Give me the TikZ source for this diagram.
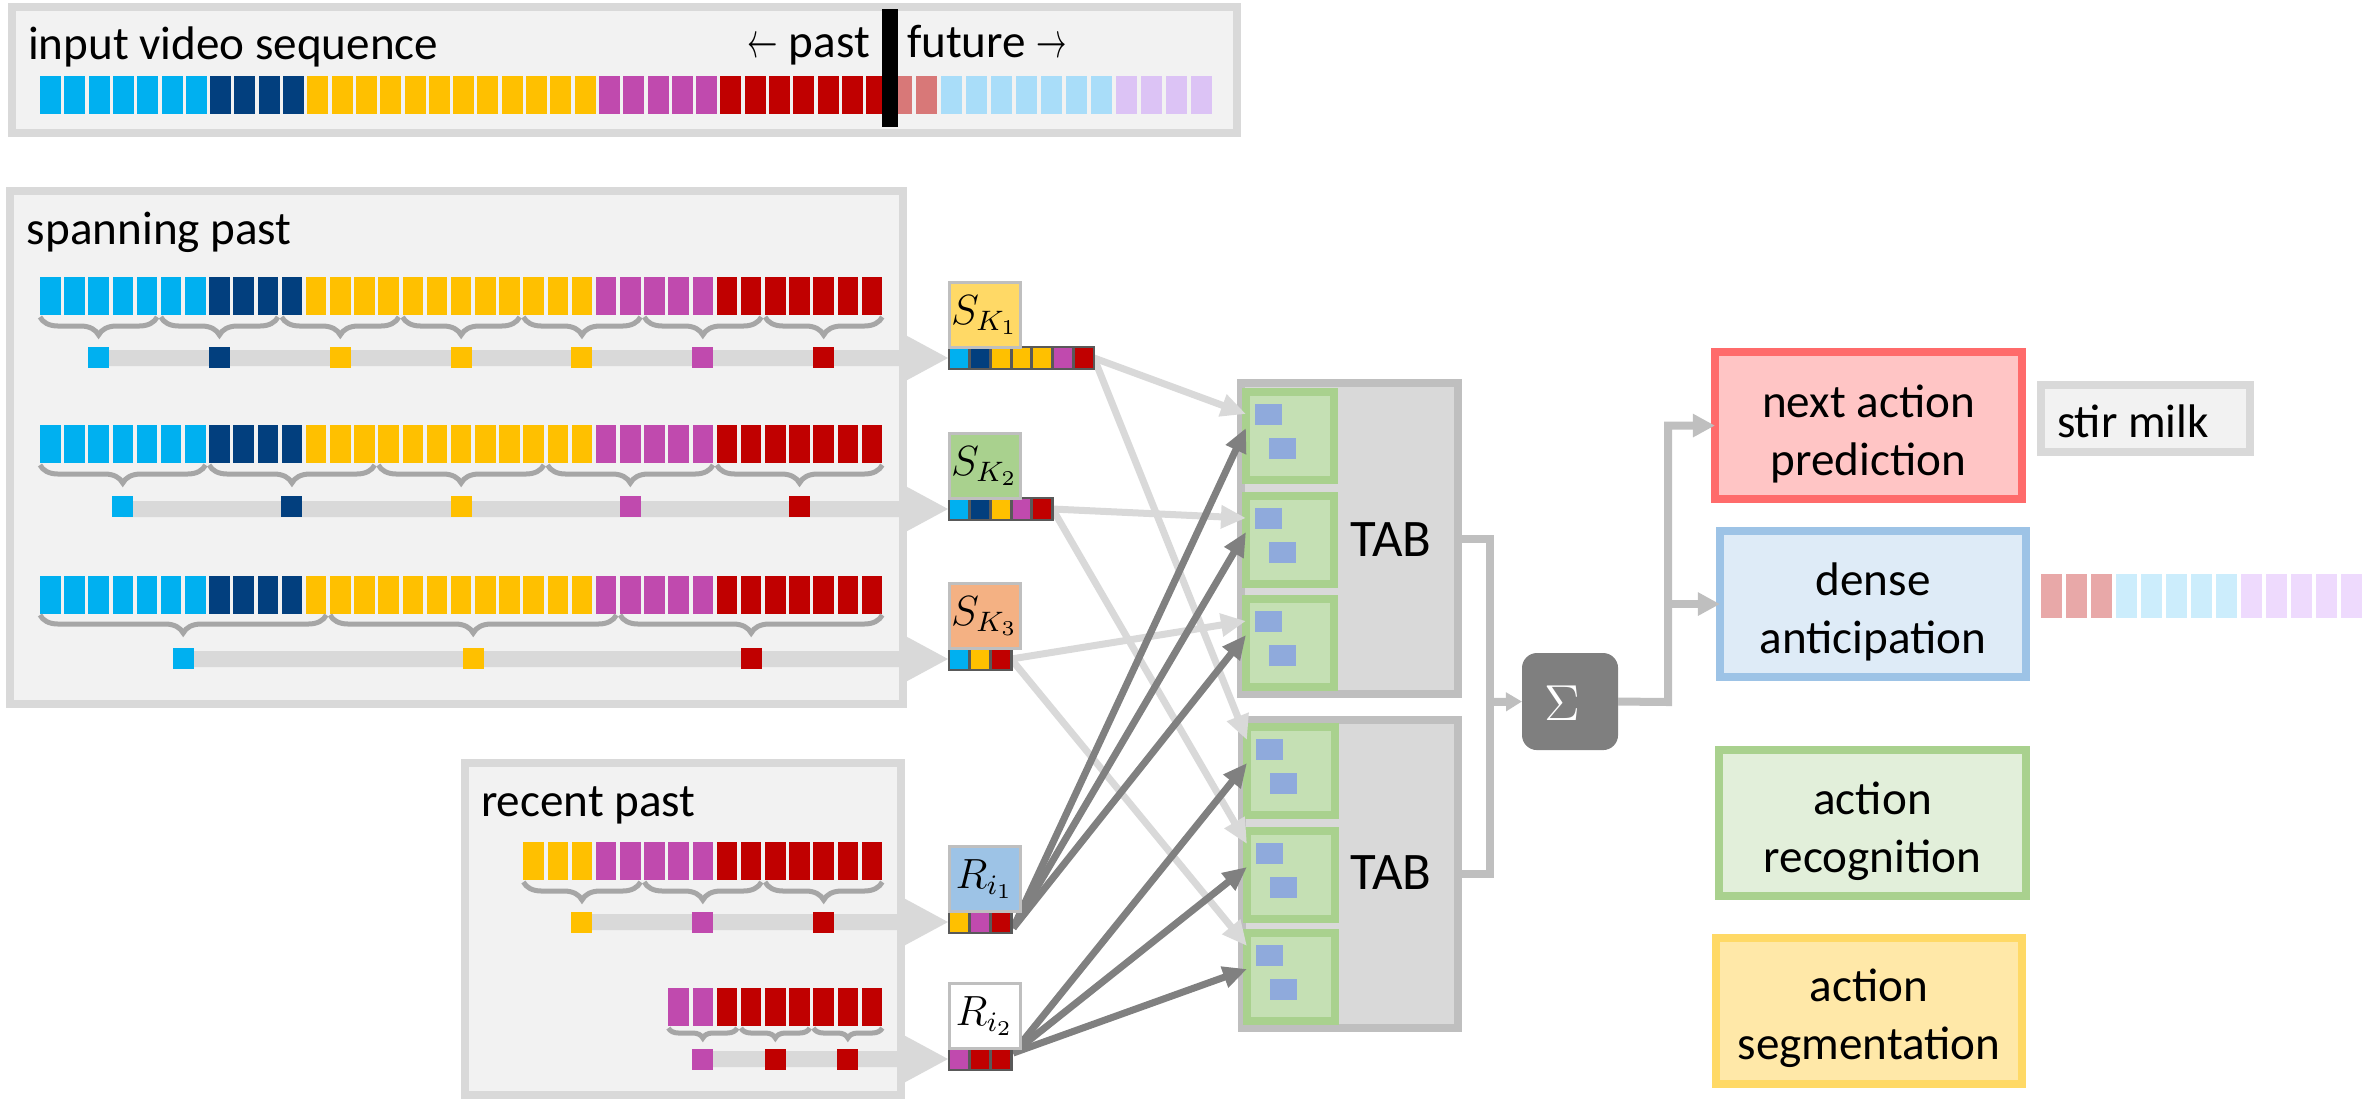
\documentclass[tikz,border=0pt]{standalone}
\usepackage{graphicx}
\usepackage{fontspec}
\setmainfont{Carlito}
\usetikzlibrary{arrows.meta,calc,decorations.pathreplacing}

% frame colours
\definecolor{clb}{HTML}{00B0F0}
\definecolor{cdb}{HTML}{023F7E}
\definecolor{cyl}{HTML}{FFC000}
\definecolor{cpu}{HTML}{C04AAE}
\definecolor{crd}{HTML}{C00000}
\definecolor{flr}{HTML}{D87878}
\definecolor{flb}{HTML}{A9DDF9}
\definecolor{flp}{HTML}{DCC3F5}
\definecolor{dlr}{HTML}{E8A8A8}
\definecolor{dlb}{HTML}{CCEDFC}
\definecolor{dlp}{HTML}{EEDAFD}
% boxes and links
\definecolor{panelline}{HTML}{D9D9D9}
\definecolor{panelfill}{HTML}{F2F2F2}
\definecolor{bracegray}{HTML}{A6A6A6}
\definecolor{tabline}{HTML}{BFBFBF}
\definecolor{tabfill}{HTML}{D9D9D9}
\definecolor{greenline}{HTML}{A9D18E}
\definecolor{greenfill}{HTML}{C5E0B4}
\definecolor{tokenblue}{HTML}{8FAADC}
\definecolor{darkarrow}{HTML}{808080}
\definecolor{lightarrow}{HTML}{D9D9D9}
\definecolor{joingray}{HTML}{BFBFBF}
\definecolor{sigmafill}{HTML}{7F7F7F}
\definecolor{skAfill}{HTML}{FFD966}
\definecolor{skBfill}{HTML}{A9D18E}
\definecolor{skCfill}{HTML}{F4B183}
\definecolor{riAfill}{HTML}{9DC3E6}
\definecolor{cellline}{HTML}{595959}
\definecolor{labelline}{HTML}{BFBFBF}
\definecolor{nextline}{HTML}{FF6B6B}
\definecolor{nextfill}{HTML}{FFC5C5}
\definecolor{denseline}{HTML}{9DC3E6}
\definecolor{densefill}{HTML}{DEEBF7}
\definecolor{recline}{HTML}{A9D18E}
\definecolor{recfill}{HTML}{E2EFDA}
\definecolor{segline}{HTML}{FFD966}
\definecolor{segfill}{HTML}{FFE8A8}

% colour sequences of the frames
\def\pastcols{clb,clb,clb,clb,clb,clb,clb,cdb,cdb,cdb,cdb,cyl,cyl,cyl,cyl,cyl,cyl,cyl,cyl,cyl,cyl,cyl,cyl,cpu,cpu,cpu,cpu,cpu,crd,crd,crd,crd,crd,crd,crd}
\def\futurecols{flr,flr,flb,flb,flb,flb,flb,flb,flb,flp,flp,flp,flp}
\def\recentAcols{cyl,cyl,cyl,cpu,cpu,cpu,cpu,cpu,crd,crd,crd,crd,crd,crd,crd}
\def\recentBcols{cpu,cpu,crd,crd,crd,crd,crd,crd,crd}
\def\densecols{dlr,dlr,dlr,dlb,dlb,dlb,dlb,dlb,dlp,dlp,dlp,dlp,dlp}
\def\skAcells{clb,cdb,cyl,cyl,cyl,cpu,crd}
\def\skBcells{clb,cdb,cyl,cpu,crd}
\def\skCcells{clb,cyl,crd}
\def\riAcells{cyl,cpu,crd}
\def\riBcells{cpu,crd,crd}

% short arrows for the past/future tags
\newcommand\shortleft{\scalebox{0.6}[1]{$\leftarrow$}}
\newcommand\shortright{\scalebox{0.6}[1]{$\rightarrow$}}

% a row of frames: x of first frame, top y, colour list
\newcommand\framecells[3]{%
  \foreach \c [count=\k from 0] in #3 {\fill[\c] ({#1+24.17*\k},#2) rectangle ++(20.5,38);}}
% a brace over frames #1..#2 at height #3 with amplitude #4
\newcommand\spanbrace[4]{%
  \draw[bracestyle, decoration={brace,mirror,amplitude=#4}] ({40+24.17*(#1)},#3) -- ({40+24.17*(#2)+20.5},#3);}
% a sampled frame centred under frame index #1
\newcommand\pickcell[3]{\fill[#3] ({40+24.17*(#1)-0.25},#2) rectangle ++(21,21);}
% the cells of a feature strip
\newcommand\stripcells[2]{%
  \foreach \c [count=\k from 0] in #2 {\draw[cellstyle, fill=\c] ($(#1.north west)+({20.7*\k},0)$) rectangle ++(20.7,22);}}

\begin{document}
\begin{tikzpicture}[x=0.01cm, y=-0.01cm,
  panel/.style={draw=panelline, fill=panelfill, line width=0.08cm, inner sep=0pt, outer sep=0pt, anchor=north west},
  maintext/.style={font=\fontsize{13.4}{16}\selectfont, inner sep=0pt, outer sep=0pt},
  outtext/.style={font=\fontsize{13.4}{16.5}\selectfont, inner sep=0pt, align=center},
  bracestyle/.style={draw=bracegray, line width=0.05cm, decorate},
  feedbar/.style={draw=panelline, line width=0.16cm, -{Triangle[length=0.45cm,width=0.44cm]}},
  stripnode/.style={anchor=north west, inner sep=0pt, outer sep=0pt, minimum height=0.22cm},
  cellstyle/.style={draw=cellline, line width=0.028cm},
  labelbox/.style={draw=labelline, line width=0.03cm, anchor=south west, inner sep=0pt, outer sep=0pt,
    minimum width=0.71cm, minimum height=0.64cm, font=\fontsize{12}{14}\selectfont},
  tabbox/.style={draw=tabline, fill=tabfill, line width=0.08cm, anchor=north west, inner sep=0pt, outer sep=0pt},
  greencell/.style={draw=greenline, fill=greenfill, line width=0.08cm, anchor=north west, inner sep=0pt, outer sep=0pt,
    minimum width=0.88cm, minimum height=0.88cm},
  tablabel/.style={font=\fontsize{15}{18}\selectfont, inner sep=0pt},
  lightlink/.style={draw=lightarrow, line width=0.07cm, -{Triangle[length=0.25cm,width=0.22cm]}},
  darklink/.style={draw=darkarrow, line width=0.07cm, -{Triangle[length=0.24cm,width=0.21cm]}},
  joinline/.style={draw=joingray, line width=0.08cm},
  sigmabox/.style={fill=sigmafill, rounded corners=0.15cm, anchor=north west, inner sep=0pt, outer sep=0pt,
    minimum width=0.96cm, minimum height=0.97cm},
  outbox/.style={line width=0.08cm, anchor=north west, inner sep=0pt, outer sep=0pt}
]
\useasboundingbox (0,0) rectangle (2374,1099);

% ---------- panels ----------
\node[panel, minimum width=12.24cm, minimum height=1.26cm] (inputpanel) at (12,7) {};
\node[panel, minimum width=8.92cm, minimum height=5.13cm] (spanpanel) at (10,191) {};
\node[panel, minimum width=4.36cm, minimum height=3.32cm] (recentpanel) at (465,763) {};
\node[panel, minimum width=2.09cm, minimum height=0.67cm] (stirpanel) at (2041,385) {};

% ---------- input video sequence ----------
\foreach \c [count=\k from 0] in \pastcols {\fill[\c] ({40+24.3*\k},76) rectangle ++(21,38);}
\foreach \c [count=\k from 0] in \futurecols {\fill[\c] ({891+25*\k},76) rectangle ++(21,38);}
\fill[black] (882,9) rectangle (898,127);
\node[maintext, anchor=base west] (inputtitle) at (28,59) {input video sequence};
\node[maintext, anchor=base east] (pasttag) at (870,57) {\shortleft\ past};
\node[maintext, anchor=base west] (futuretag) at (907,57) {future \shortright};

% ---------- spanning past ----------
\node[maintext, anchor=base west] (spantitle) at (27,244) {spanning past};
\framecells{40}{277}{\pastcols}
\framecells{40}{425}{\pastcols}
\framecells{40}{576}{\pastcols}
\foreach \a in {0,5,...,30} {\spanbrace{\a}{\a+4}{317}{0.18cm}}
\foreach \a in {0,7,...,28} {\spanbrace{\a}{\a+6}{465}{0.18cm}}
\spanbrace{0}{11}{615}{0.18cm}
\spanbrace{12}{23}{615}{0.18cm}
\spanbrace{24}{34}{615}{0.18cm}

% ---------- recent past ----------
\node[maintext, anchor=base west] (recenttitle) at (481,816) {recent past};
\framecells{523.4}{842}{\recentAcols}
\framecells{668.4}{988}{\recentBcols}
\spanbrace{20}{24}{882}{0.18cm}
\spanbrace{25}{29}{882}{0.18cm}
\spanbrace{30}{34}{882}{0.18cm}
\spanbrace{26}{28}{1028}{0.1cm}
\spanbrace{29}{31}{1028}{0.1cm}
\spanbrace{32}{34}{1028}{0.1cm}

% ---------- feature strips ----------
\node[stripnode, minimum width=1.449cm] (skAstrip) at (949,347) {};
\node[stripnode, minimum width=1.035cm] (skBstrip) at (949,498) {};
\node[stripnode, minimum width=0.621cm] (skCstrip) at (949,648) {};
\node[stripnode, minimum width=0.621cm] (riAstrip) at (949,911) {};
\node[stripnode, minimum width=0.621cm] (riBstrip) at (949,1048) {};

% sampling bars into the strips
\coordinate (spanAstart) at (98.6,358);
\coordinate (spanBstart) at (122.8,509);
\coordinate (spanCstart) at (183.2,659);
\coordinate (recentAstart) at (582,922);
\coordinate (recentBstart) at (702.8,1059);
\draw[feedbar] (spanAstart) -- (skAstrip.west);
\draw[feedbar] (spanBstart) -- (skBstrip.west);
\draw[feedbar] (spanCstart) -- (skCstrip.west);
\draw[feedbar] (recentAstart) -- (riAstrip.west);
\draw[feedbar] (recentBstart) -- (riBstrip.west);

% sampled frames
\foreach \c [count=\j from 0] in \skAcells {\pickcell{5*\j+2}{347}{\c}}
\foreach \c [count=\j from 0] in \skBcells {\pickcell{7*\j+3}{496}{\c}}
\pickcell{5.5}{648}{clb}
\pickcell{17.5}{648}{cyl}
\pickcell{29}{648}{crd}
\pickcell{22}{912}{cyl}
\pickcell{27}{912}{cpu}
\pickcell{32}{912}{crd}
\pickcell{27}{1049}{cpu}
\pickcell{30}{1049}{crd}
\pickcell{33}{1049}{crd}

% ---------- temporal aggregation blocks ----------
\node[tabbox, minimum width=2.17cm, minimum height=3.11cm] (tabU) at (1241,383) {};
\node[tabbox, minimum width=2.16cm, minimum height=3.08cm] (tabL) at (1242,720) {};
\node[greencell] (gU1) at (1246,392) {};
\node[greencell] (gU2) at (1246,496) {};
\node[greencell] (gU3) at (1246,599) {};
\node[greencell] (gL1) at (1247,727) {};
\node[greencell] (gL2) at (1247,831) {};
\node[greencell] (gL3) at (1247,933) {};
\foreach \g in {gU1,gU2,gU3,gL1,gL2,gL3} {
  \fill[tokenblue] ($(\g.north west)+(9,12)$) rectangle ++(27,21);
  \fill[tokenblue] ($(\g.north west)+(23,46)$) rectangle ++(27,21);
}
\node[tablabel] (tabUname) at (1391,540) {TAB};
\node[tablabel] (tabLname) at (1391,873) {TAB};

% ---------- links into the blocks ----------
\draw[lightlink] (skAstrip.east) -- ($(gU1.north west)+(0,22)$);
\draw[lightlink] (skBstrip.east) -- ($(gU2.north west)+(0,22)$);
\draw[lightlink] (skCstrip.east) -- ($(gU3.north west)+(0,22)$);
\draw[lightlink] (skAstrip.east) -- ($(gL1.north west)+(0,13)$);
\draw[lightlink] (skBstrip.east) -- ($(gL2.north west)+(0,13)$);
\draw[lightlink] (skCstrip.east) -- ($(gL3.north west)+(0,13)$);
\coordinate (riAout) at ($(riAstrip.east)+(2,6)$);
\coordinate (riBout) at ($(riBstrip.east)+(2,-6)$);
\foreach \g in {gU1,gU2,gU3} {\draw[darklink] (riAout) -- ($(\g.north west)+(0,36)$);}
\foreach \g in {gL1,gL2,gL3} {\draw[darklink] (riBout) -- ($(\g.north west)+(0,36)$);}

% strip cells sit on top of the link ends
\stripcells{skAstrip}{\skAcells}
\stripcells{skBstrip}{\skBcells}
\stripcells{skCstrip}{\skCcells}
\stripcells{riAstrip}{\riAcells}
\stripcells{riBstrip}{\riBcells}

\node[labelbox, fill=skAfill] (skA) at (skAstrip.north west) {$S_{K_1}$};
\node[labelbox, fill=skBfill] (skB) at (skBstrip.north west) {$S_{K_2}$};
\node[labelbox, fill=skCfill] (skC) at (skCstrip.north west) {$S_{K_3}$};
\node[labelbox, fill=riAfill] (riA) at (riAstrip.north west) {$R_{i_1}$};
\node[labelbox, fill=white] (riB) at (riBstrip.north west) {$R_{i_2}$};

% ---------- fusion ----------
\node[sigmabox] (sigma) at (1522,653) {};
\node[text=white, font=\fontsize{14.4}{16}\selectfont, inner sep=0pt] (sigmasym) at (1562,703) {$\Sigma$};
\coordinate (merge) at (1490,702);
\draw[joinline] (tabU.east) -| (merge);
\draw[joinline] (tabL.east) -| (merge);
\draw[joinline, -{Triangle[length=0.16cm,width=0.18cm]}] (merge) -- (sigma.west);

% ---------- outputs ----------
\node[outbox, draw=nextline, fill=nextfill, minimum width=3.07cm, minimum height=1.47cm] (nextbox) at (1715,352) {};
\node[outbox, draw=denseline, fill=densefill, minimum width=3.06cm, minimum height=1.46cm] (densebox) at (1720,531) {};
\node[outbox, draw=recline, fill=recfill, minimum width=3.07cm, minimum height=1.46cm] (recbox) at (1719,750) {};
\node[outbox, draw=segline, fill=segfill, minimum width=3.06cm, minimum height=1.46cm] (segbox) at (1716,938) {};
\node[outtext] (nexttxt) at ($(nextbox.center)+(0,8)$) {next action\\prediction};
\node[outtext] (densetxt) at ($(densebox.center)+(0,8)$) {dense\\anticipation};
\node[outtext] (rectxt) at ($(recbox.center)+(0,8)$) {action\\recognition};
\node[outtext] (segtxt) at ($(segbox.center)+(0,7)$) {action\\segmentation};

\coordinate (fork) at (1668,702);
\draw[joinline, -{Triangle[length=0.22cm,width=0.22cm]}] (sigma.east) -- (fork) |- (nextbox.west);
\draw[joinline, -{Triangle[length=0.22cm,width=0.22cm]}] (fork |- densebox.west) -- (densebox.west);

\node[maintext, anchor=base west] (stirtext) at (2057,437) {stir milk};
\foreach \c [count=\k from 0] in \densecols {\fill[\c] ({2041+25*\k},574) rectangle ++(21,44);}

\end{tikzpicture}
\end{document}
